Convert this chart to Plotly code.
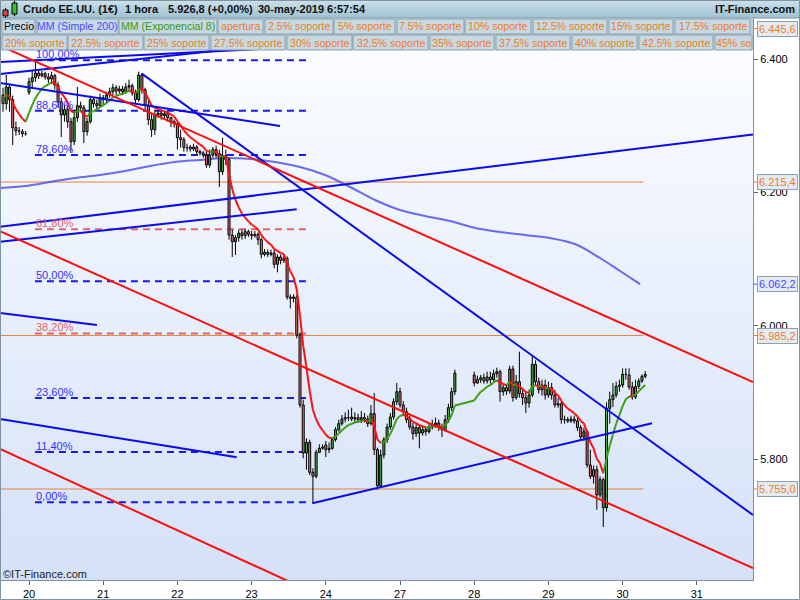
import plotly.graph_objects as go

# ---------------- data ----------------
day_labels = ["20", "21", "22", "23", "24", "27", "28", "29", "30", "31"]
session_start = [-0.35, 0, 1, 2, 3, 4, 5, 6, 7, 8]
session_bars = [8, 23, 23, 23, 23, 23, 18, 23, 23, 8]
BARS_PER_DAY = 23

open_ = [
    6.346, 6.333, 6.358, 6.339, 6.297, 6.292, 6.291, 6.288,
    6.350, 6.366, 6.372, 6.379, 6.375, 6.378, 6.373, 6.370, 6.375, 6.361, 6.336, 6.316, 6.324, 6.306, 6.276, 6.312, 6.330, 6.327, 6.291, 6.306, 6.339, 6.333, 6.330,
    6.342, 6.339, 6.346, 6.351, 6.357, 6.352, 6.355, 6.351, 6.358, 6.360, 6.349, 6.339, 6.376, 6.354, 6.331, 6.309, 6.294, 6.316, 6.319, 6.315, 6.318, 6.312, 6.306,
    6.303, 6.282, 6.279, 6.267, 6.268, 6.265, 6.268, 6.261, 6.259, 6.256, 6.241, 6.256, 6.264, 6.258, 6.231, 6.255, 6.249, 6.136, 6.126, 6.132, 6.139, 6.135, 6.141,
    6.137, 6.135, 6.137, 6.129, 6.107, 6.110, 6.107, 6.109, 6.092, 6.103, 6.098, 6.101, 6.043, 6.041, 6.043, 5.986, 5.881, 5.809, 5.825, 5.780, 5.774, 5.810, 5.816,
    5.821, 5.814, 5.816, 5.829, 5.844, 5.853, 5.860, 5.862, 5.863, 5.860, 5.862, 5.859, 5.862, 5.860, 5.853, 5.868, 5.814, 5.760, 5.806, 5.829, 5.848, 5.863, 5.886,
    5.901, 5.881, 5.871, 5.859, 5.848, 5.838, 5.847, 5.839, 5.844, 5.841, 5.848, 5.851, 5.854, 5.848, 5.844, 5.859, 5.877, 5.901,
    5.926, 5.914, 5.919, 5.922, 5.917, 5.923, 5.919, 5.928, 5.931, 5.901, 5.907, 5.902, 5.935, 5.892, 5.916, 5.898, 5.892, 5.884, 5.896, 5.942, 5.916, 5.904, 5.911,
    5.896, 5.907, 5.896, 5.881, 5.883, 5.859, 5.859, 5.857, 5.860, 5.857, 5.847, 5.833, 5.841, 5.791, 5.774, 5.784, 5.746, 5.769, 5.727, 5.876, 5.889, 5.896, 5.909,
    5.911, 5.927, 5.926, 5.908, 5.893, 5.909, 5.917, 5.924,
]
high = [
    6.357, 6.376, 6.363, 6.345, 6.306, 6.298, 6.295, 6.292,
    6.372, 6.384, 6.399, 6.384, 6.382, 6.381, 6.379, 6.381, 6.378, 6.366, 6.342, 6.331, 6.330, 6.312, 6.324, 6.358, 6.336, 6.331, 6.312, 6.345, 6.342, 6.339, 6.348,
    6.346, 6.351, 6.357, 6.363, 6.361, 6.360, 6.360, 6.364, 6.369, 6.363, 6.354, 6.381, 6.379, 6.357, 6.339, 6.318, 6.324, 6.324, 6.322, 6.322, 6.321, 6.313, 6.309,
    6.306, 6.294, 6.283, 6.273, 6.271, 6.273, 6.271, 6.264, 6.262, 6.261, 6.264, 6.268, 6.270, 6.264, 6.282, 6.264, 6.252, 6.144, 6.136, 6.144, 6.144, 6.145, 6.144,
    6.142, 6.142, 6.140, 6.132, 6.115, 6.114, 6.114, 6.114, 6.107, 6.107, 6.106, 6.104, 6.047, 6.047, 6.046, 5.989, 5.889, 5.831, 5.829, 5.786, 5.814, 5.822, 5.822,
    5.827, 5.825, 5.833, 5.848, 5.859, 5.866, 5.870, 5.874, 5.877, 5.870, 5.868, 5.872, 5.869, 5.865, 5.881, 5.899, 5.817, 5.814, 5.833, 5.853, 5.869, 5.891, 5.914,
    5.907, 5.887, 5.877, 5.865, 5.854, 5.853, 5.851, 5.850, 5.848, 5.854, 5.859, 5.862, 5.859, 5.853, 5.866, 5.883, 5.907, 5.934,
    5.931, 5.925, 5.926, 5.928, 5.931, 5.931, 5.934, 5.937, 5.934, 5.913, 5.911, 5.940, 5.940, 5.926, 5.961, 5.907, 5.901, 5.904, 5.956, 5.948, 5.922, 5.919, 5.919,
    5.916, 5.914, 5.904, 5.892, 5.886, 5.865, 5.863, 5.865, 5.865, 5.863, 5.851, 5.847, 5.844, 5.814, 5.790, 5.790, 5.774, 5.772, 5.885, 5.901, 5.914, 5.916, 5.919,
    5.936, 5.936, 5.936, 5.916, 5.919, 5.921, 5.927, 5.932,
]
low = [
    6.321, 6.324, 6.321, 6.271, 6.285, 6.286, 6.283, 6.285,
    6.346, 6.357, 6.366, 6.370, 6.372, 6.369, 6.364, 6.363, 6.354, 6.327, 6.283, 6.306, 6.297, 6.261, 6.271, 6.306, 6.321, 6.274, 6.285, 6.303, 6.327, 6.324, 6.327,
    6.330, 6.334, 6.342, 6.346, 6.346, 6.348, 6.346, 6.348, 6.352, 6.345, 6.333, 6.336, 6.348, 6.324, 6.301, 6.283, 6.286, 6.312, 6.309, 6.310, 6.306, 6.298, 6.297,
    6.264, 6.267, 6.261, 6.261, 6.261, 6.262, 6.256, 6.255, 6.252, 6.237, 6.237, 6.252, 6.252, 6.208, 6.226, 6.241, 6.129, 6.103, 6.106, 6.126, 6.129, 6.130, 6.133,
    6.129, 6.132, 6.121, 6.101, 6.104, 6.103, 6.104, 6.086, 6.080, 6.092, 6.094, 6.039, 6.026, 6.035, 5.981, 5.877, 5.801, 5.784, 5.776, 5.734, 5.771, 5.809, 5.814,
    5.803, 5.809, 5.814, 5.826, 5.841, 5.850, 5.855, 5.857, 5.857, 5.855, 5.854, 5.854, 5.855, 5.848, 5.850, 5.806, 5.754, 5.757, 5.801, 5.824, 5.844, 5.859, 5.881,
    5.877, 5.866, 5.854, 5.844, 5.829, 5.833, 5.816, 5.835, 5.835, 5.838, 5.844, 5.847, 5.842, 5.833, 5.841, 5.854, 5.872, 5.896,
    5.909, 5.913, 5.914, 5.913, 5.913, 5.913, 5.916, 5.922, 5.886, 5.895, 5.896, 5.898, 5.886, 5.889, 5.892, 5.881, 5.869, 5.877, 5.893, 5.911, 5.898, 5.895, 5.889,
    5.892, 5.889, 5.877, 5.877, 5.853, 5.853, 5.854, 5.854, 5.853, 5.842, 5.829, 5.827, 5.787, 5.770, 5.763, 5.724, 5.742, 5.698, 5.721, 5.853, 5.878, 5.892, 5.901,
    5.907, 5.919, 5.904, 5.889, 5.890, 5.905, 5.914, 5.921,
]
close = [
    6.333, 6.358, 6.339, 6.297, 6.292, 6.291, 6.288, 6.289,
    6.366, 6.372, 6.379, 6.375, 6.378, 6.373, 6.370, 6.375, 6.361, 6.336, 6.316, 6.324, 6.306, 6.276, 6.312, 6.330, 6.327, 6.291, 6.306, 6.339, 6.333, 6.330, 6.342,
    6.339, 6.346, 6.351, 6.357, 6.352, 6.355, 6.351, 6.358, 6.360, 6.349, 6.339, 6.376, 6.354, 6.331, 6.309, 6.294, 6.316, 6.319, 6.315, 6.318, 6.312, 6.306, 6.303,
    6.282, 6.279, 6.267, 6.268, 6.265, 6.268, 6.261, 6.259, 6.256, 6.241, 6.256, 6.264, 6.258, 6.231, 6.255, 6.249, 6.136, 6.126, 6.132, 6.139, 6.135, 6.141, 6.137,
    6.135, 6.137, 6.129, 6.107, 6.110, 6.107, 6.109, 6.092, 6.103, 6.098, 6.101, 6.043, 6.041, 6.043, 5.986, 5.881, 5.809, 5.825, 5.780, 5.774, 5.810, 5.816, 5.818,
    5.814, 5.816, 5.829, 5.844, 5.853, 5.860, 5.862, 5.863, 5.860, 5.862, 5.859, 5.862, 5.860, 5.853, 5.868, 5.814, 5.760, 5.806, 5.829, 5.848, 5.863, 5.886, 5.901,
    5.881, 5.871, 5.859, 5.848, 5.838, 5.847, 5.839, 5.844, 5.841, 5.848, 5.851, 5.854, 5.848, 5.844, 5.859, 5.877, 5.901, 5.929,
    5.914, 5.919, 5.922, 5.917, 5.923, 5.919, 5.928, 5.931, 5.901, 5.907, 5.902, 5.935, 5.892, 5.916, 5.898, 5.892, 5.884, 5.896, 5.942, 5.916, 5.904, 5.911, 5.896,
    5.907, 5.896, 5.881, 5.883, 5.859, 5.858, 5.857, 5.860, 5.857, 5.847, 5.833, 5.841, 5.791, 5.774, 5.784, 5.746, 5.769, 5.727, 5.876, 5.889, 5.896, 5.909, 5.911,
    5.927, 5.926, 5.908, 5.893, 5.909, 5.917, 5.924, 5.9268,
]

ema_seed = 6.345
ema_period = 8

mm200_day = [-0.391, -0.054, 0.283, 0.620, 0.957, 1.294, 1.631, 1.968, 2.305, 2.642, 2.978,
             3.315, 3.652, 3.989, 4.326, 4.663, 5.000, 5.337, 5.674, 6.011, 6.348, 6.685,
             7.022, 7.358, 7.695, 7.965, 8.235]
mm200_val = [6.2065, 6.2095, 6.2155, 6.2215, 6.2260, 6.2320, 6.2395, 6.2455, 6.2485, 6.2515, 6.2500,
             6.2455, 6.2380, 6.2260, 6.2080, 6.1885, 6.1735, 6.1645, 6.1570, 6.1465, 6.1405, 6.1360,
             6.1315, 6.1225, 6.1015, 6.0820, 6.0622]

fib_high = 6.398
fib_low = 5.735
fib_start_day = 0.08
fib_end_day = 3.79
fib_levels = [1.0, 0.886, 0.786, 0.618, 0.5, 0.382, 0.236, 0.114, 0.0]
fib_labels = ["100,00%", "88,60%", "78,60%", "61,80%", "50,00%", "38,20%", "23,60%", "11,40%", "0,00%"]
fib_is_red = [False, False, False, True, False, True, False, False, False]

level_values = [6.4456, 6.2154, 5.9852, 5.7550]
level_labels = ["6.445,6", "6.215,4", "5.985,2", "5.755,0"]
level_end_day = 8.28
mm200_last_label = "6.062,2"

blue_lines = [
    ((-0.391, 6.3955), (3.652, 6.4180)),
    ((-0.391, 6.3775), (3.652, 6.4260)),
    ((-0.391, 6.3640), (3.383, 6.2995)),
    ((1.519, 6.3780), (9.757, 5.7160)),
    ((-0.391, 6.1485), (9.757, 6.2866)),
    ((-0.391, 6.1260), (3.608, 6.1746)),
    ((-0.391, 6.0190), (0.916, 6.0010)),
    ((-0.391, 5.8600), (2.799, 5.8025)),
    ((3.818, 5.7336), (8.396, 5.8536)),
]
red_lines = [
    ((-0.391, 6.4200), (9.757, 5.9155)),
    ((-0.391, 6.1416), (9.757, 5.6365)),
    ((-0.391, 5.8150), (3.652, 5.6088)),
]

legend_row1 = [("Precio", 2, 35, "#000000"), ("MM (Simple 200)", 37, 118, "#4a4aff"),
               ("MM (Exponencial 8)", 119, 217, "#3a9a10"), ("apertura", 218, 263, "#f07d1e"),
               ("2.5% soporte", 265, 333, "#f07d1e"), ("5% soporte", 334, 395, "#f07d1e"),
               ("7.5% soporte", 397, 464, "#f07d1e"), ("10% soporte", 465, 531, "#f07d1e"),
               ("12.5% soporte", 533, 607, "#f07d1e"), ("15% soporte", 609, 673, "#f07d1e"),
               ("17.5% soporte", 675, 750, "#f07d1e")]
legend_row2 = [("20% soporte", 2, 67), ("22.5% soporte", 68, 143), ("25% soporte", 144, 209),
               ("27.5% soporte", 211, 285), ("30% soporte", 287, 352), ("32.5% soporte", 353, 428),
               ("35% soporte", 430, 494), ("37.5% soporte", 496, 570), ("40% soporte", 572, 637),
               ("42.5% soporte", 639, 713), ("45% so", 715, 752)]

# ---------------- geometry ----------------
W, H = 800, 600
ML, MR, MT, MB = 0, 47, 18, 20
PW, PH = W - ML - MR, H - MT - MB
XR = [-0.3908, 9.757]
YR = [5.6185, 6.4615]
FONT = "Liberation Sans, Arial, sans-serif"


def fx(px):
    return (px - ML) / PW


def fy(py):
    return (H - MB - py) / PH


n = len(close)
assert len(open_) == n and len(high) == n and len(low) == n and sum(session_bars) == n

xs = []
for s, cnt in zip(session_start, session_bars):
    for k in range(cnt):
        xs.append(s + k / BARS_PER_DAY)

fig = go.Figure()

# background gradient
fig.add_trace(go.Scatter(x=[XR[0], XR[1], XR[1], XR[0], XR[0]], y=[YR[0], YR[0], YR[1], YR[1], YR[0]],
                         fill="toself", mode="none", hoverinfo="skip",
                         fillgradient=dict(type="vertical", colorscale=[[0, "#d4e1f8"], [0.5, "#e9f0fc"], [1, "#fdfeff"]])))

# support lines
for v in level_values:
    fig.add_trace(go.Scatter(x=[XR[0], level_end_day], y=[v, v], mode="lines",
                             line=dict(color="#e8843c", width=1), hoverinfo="skip"))

# MM200
fig.add_trace(go.Scatter(x=mm200_day, y=mm200_val, mode="lines", line=dict(color="rgba(60,60,235,0.75)", width=2, shape="spline"),
                         hoverinfo="skip"))

# fibonacci
rng = fib_high - fib_low
for lev, lab, red in zip(fib_levels, fib_labels, fib_is_red):
    v = fib_low + lev * rng
    col = "#e06464" if red else "#1a1af0"
    fig.add_trace(go.Scatter(x=[fib_start_day, fib_end_day], y=[v, v], mode="lines",
                             line=dict(color=col, width=2, dash="7px,5px"), hoverinfo="skip"))
    fig.add_annotation(x=fib_start_day, y=v, xref="x", yref="y", text=lab, showarrow=False,
                       xanchor="left", yanchor="middle", yshift=6, borderpad=0,
                       font=dict(family=FONT, size=11, color="#e06464" if red else "#3232ff"))

# candles: wicks
wx, wy = [], []
for x, h, l in zip(xs, high, low):
    wx += [x, x, None]
    wy += [l, h, None]
fig.add_trace(go.Scatter(x=wx, y=wy, mode="lines", line=dict(color="#000000", width=1), hoverinfo="skip"))

hw = 0.0135
gx, gy, rx, ry = [], [], [], []
for x, o, c in zip(xs, open_, close):
    px_ = [x - hw, x + hw, x + hw, x - hw, x - hw, None]
    py_ = [o, o, c, c, o, None]
    if c >= o:
        gx += px_; gy += py_
    else:
        rx += px_; ry += py_
fig.add_trace(go.Scatter(x=gx, y=gy, mode="lines", fill="toself", fillcolor="#44b844",
                         line=dict(color="#000000", width=1), hoverinfo="skip"))
fig.add_trace(go.Scatter(x=rx, y=ry, mode="lines", fill="toself", fillcolor="#ee7474",
                         line=dict(color="#000000", width=1), hoverinfo="skip"))

# EMA 8
alpha = 2 / (ema_period + 1)
ema = []
prev = ema_seed
for c in close:
    prev = prev + alpha * (c - prev)
    ema.append(prev)
egx, egy, erx, ery = [], [], [], []
for i in range(n - 1):
    seg_x = [xs[i], xs[i + 1], None]
    seg_y = [ema[i], ema[i + 1], None]
    if ema[i + 1] >= ema[i]:
        egx += seg_x; egy += seg_y
    else:
        erx += seg_x; ery += seg_y
fig.add_trace(go.Scatter(x=erx, y=ery, mode="lines", line=dict(color="#ff1010", width=2), hoverinfo="skip"))
fig.add_trace(go.Scatter(x=egx, y=egy, mode="lines", line=dict(color="#3f9c14", width=2), hoverinfo="skip"))

# trend lines
for (a, b) in blue_lines:
    fig.add_trace(go.Scatter(x=[a[0], b[0]], y=[a[1], b[1]], mode="lines",
                             line=dict(color="#0b0bee", width=2), hoverinfo="skip"))
for (a, b) in red_lines:
    fig.add_trace(go.Scatter(x=[a[0], b[0]], y=[a[1], b[1]], mode="lines",
                             line=dict(color="#ff0c0c", width=2), hoverinfo="skip"))

shapes = []
# header bar bands
hdr_cols = ["#c9dfe8", "#c0d9e4", "#b8d3df", "#b0cedb", "#a9c9d7", "#a4c5d4"]
for i, col in enumerate(hdr_cols):
    shapes.append(dict(type="rect", xref="paper", yref="paper", x0=fx(0), x1=fx(800), y0=fy(i * 3 + 3), y1=fy(i * 3),
                       fillcolor=col, line=dict(width=0), layer="above"))
shapes.append(dict(type="line", xref="paper", yref="paper", x0=fx(0), x1=fx(800), y0=fy(18), y1=fy(18),
                   line=dict(color="#7d93a3", width=1), layer="above"))
# legend rows background
shapes.append(dict(type="rect", xref="paper", yref="paper", x0=fx(0), x1=fx(753), y0=fy(50), y1=fy(18),
                   fillcolor="#b7cfdb", line=dict(width=0), layer="above"))
boxes = [(t, x0, x1, c, 18) for (t, x0, x1, c) in legend_row1] + [(t, x0, x1, "#f07d1e", 34) for (t, x0, x1) in legend_row2]
for (t, x0, x1, c, y0) in boxes:
    shapes.append(dict(type="rect", xref="paper", yref="paper", x0=fx(x0), x1=fx(min(x1, 753)), y0=fy(y0 + 16), y1=fy(y0 + 1),
                       fillcolor="#c6d9e3", line=dict(color="#8ba1af", width=1), layer="above"))
    if x1 > 752:
        xa, xanc = fx(x0 + 2), "left"
    else:
        xa, xanc = fx((x0 + x1) / 2), "center"
    fig.add_annotation(x=xa, y=fy(y0 + 8.5), xref="paper", yref="paper", text=t, showarrow=False,
                       xanchor=xanc, yanchor="middle", borderpad=0,
                       font=dict(family=FONT, size=10.6, color=c))
# candle icon
shapes += [
    dict(type="line", xref="paper", yref="paper", x0=fx(5.5), x1=fx(5.5), y0=fy(18), y1=fy(8), line=dict(color="#000", width=1), layer="above"),
    dict(type="rect", xref="paper", yref="paper", x0=fx(3), x1=fx(8), y0=fy(16), y1=fy(10), fillcolor="#e04848", line=dict(color="#000", width=1), layer="above"),
    dict(type="line", xref="paper", yref="paper", x0=fx(14.5), x1=fx(14.5), y0=fy(16), y1=fy(1), line=dict(color="#000", width=1), layer="above"),
    dict(type="rect", xref="paper", yref="paper", x0=fx(12), x1=fx(17), y0=fy(14), y1=fy(3), fillcolor="#38c038", line=dict(color="#000", width=1), layer="above"),
]
# frame
shapes.append(dict(type="rect", xref="paper", yref="paper", x0=fx(0.5), x1=fx(799.5), y0=fy(599.5), y1=fy(0.5),
                   line=dict(color="#7d93a3", width=1), fillcolor="rgba(0,0,0,0)", layer="above"))
# right label tick marks
for v in level_values:
    shapes.append(dict(type="line", xref="paper", yref="y", x0=fx(753), x1=fx(758), y0=v, y1=v,
                       line=dict(color="#f07d1e", width=1), layer="above"))
shapes.append(dict(type="line", xref="paper", yref="y", x0=fx(753), x1=fx(758), y0=mm200_val[-1], y1=mm200_val[-1],
                   line=dict(color="#4a4aff", width=1), layer="above"))

# header texts
hdr = [("Crudo EE.UU. (1€)", 22), ("1 hora", 124), ("5.926,8 (+0,00%)", 167), ("30-may-2019 6:57:54", 257)]
for t, x0 in hdr:
    fig.add_annotation(x=fx(x0), y=fy(9), xref="paper", yref="paper", text="<b>" + t + "</b>", showarrow=False,
                       xanchor="left", yanchor="middle", borderpad=0, font=dict(family=FONT, size=11, color="#111111"))
fig.add_annotation(x=fx(796), y=fy(9), xref="paper", yref="paper", text="<b>IT-Finance.com</b>", showarrow=False,
                   xanchor="right", yanchor="middle", borderpad=0, font=dict(family=FONT, size=11, color="#111111"))
fig.add_annotation(x=fx(2), y=fy(574), xref="paper", yref="paper", text="©IT-Finance.com", showarrow=False,
                   xanchor="left", yanchor="middle", borderpad=0, font=dict(family=FONT, size=11, color="#222222"))

# right axis boxed labels
for v, t in zip(level_values, level_labels):
    fig.add_annotation(x=fx(757), y=v, xref="paper", yref="y", text=t, showarrow=False, xanchor="left", yanchor="middle",
                       bgcolor="#e3ebf2", bordercolor="#8ba1af", borderwidth=1, borderpad=1,
                       font=dict(family=FONT, size=11, color="#f07d1e"))
fig.add_annotation(x=fx(757), y=mm200_val[-1], xref="paper", yref="y", text=mm200_last_label, showarrow=False,
                   xanchor="left", yanchor="middle", bgcolor="#e3ebf2", bordercolor="#8ba1af", borderwidth=1, borderpad=1,
                   font=dict(family=FONT, size=11, color="#4a4aff"))

fig.update_layout(
    width=W, height=H, margin=dict(l=ML, r=MR, t=MT, b=MB, autoexpand=False),
    paper_bgcolor="white", plot_bgcolor="white", showlegend=False, shapes=shapes,
    xaxis=dict(range=XR, tickvals=list(range(len(day_labels))), ticktext=day_labels, ticks="outside", ticklen=4,
               tickcolor="#556677", showline=True, linecolor="#7d93a3", linewidth=1, showgrid=False, zeroline=False,
               automargin=False, tickfont=dict(family=FONT, size=11, color="#000")),
    yaxis=dict(range=YR, side="right", tickvals=[5.8, 6.0, 6.2, 6.4], ticktext=["5.800", "6.000", "6.200", "6.400"],
               ticks="outside", ticklen=4, tickcolor="#556677", showline=True, linecolor="#7d93a3", linewidth=1,
               automargin=False, showgrid=False, zeroline=False, tickfont=dict(family=FONT, size=11, color="#000")),
    hovermode=False,
)
fig.write_html("out.html", config={"displayModeBar": False, "staticPlot": True},
               post_script="document.body.style.margin='0px';document.body.style.overflow='hidden';")
